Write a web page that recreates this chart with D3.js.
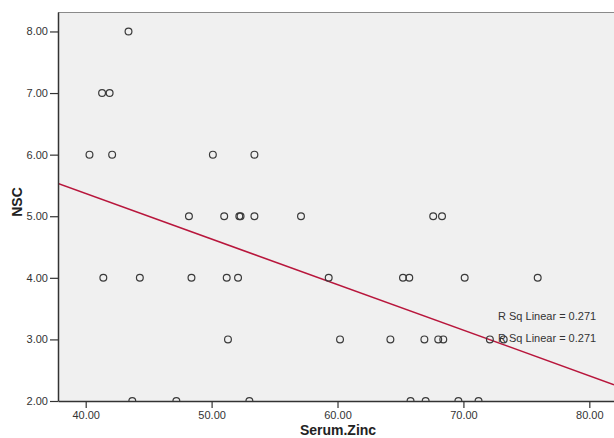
<!DOCTYPE html>
<html>
<head>
<meta charset="utf-8">
<script src="https://cdn.jsdelivr.net/npm/d3@7"></script>
<style>
  html, body { margin: 0; padding: 0; background: #fff; }
  svg { display: block; }
  text { font-family: Arial, "Liberation Sans", sans-serif; }
</style>
</head>
<body>
<svg id="chart" width="614" height="438"></svg>
<script>
// Data
const zinc = [43.4, 41.3, 41.9, 40.3, 42.1, 50.1, 53.4,
              48.2, 51.0, 52.2, 52.3, 53.4, 57.1, 67.6, 68.3,
              41.4, 44.3, 48.4, 51.2, 52.1, 59.3, 65.2, 65.7, 70.1, 75.9,
              51.3, 60.2, 64.2, 66.9, 68.0, 68.4, 72.1, 73.2,
              43.7, 47.2, 53.0, 65.8, 67.0, 69.6, 71.2];
const nsc  = [8, 7, 7, 6, 6, 6, 6,
              5, 5, 5, 5, 5, 5, 5, 5,
              4, 4, 4, 4, 4, 4, 4, 4, 4, 4,
              3, 3, 3, 3, 3, 3, 3, 3,
              2, 2, 2, 2, 2, 2, 2];
const xTicks = [40, 50, 60, 70, 80];
const yTicks = [2, 3, 4, 5, 6, 7, 8];
const fitIntercept = 8.33;
const fitSlope = -0.074;
const rsqLabels = ["R Sq Linear = 0.271", "R Sq Linear = 0.271"];
const xTitle = "Serum.Zinc";
const yTitle = "NSC";

const svg = d3.select("#chart");
const L = 58, T = 12, R = 614, B = 401;
const x = d3.scaleLinear().domain([37.8, 81.96]).range([L, R]);
const y = d3.scaleLinear().domain([2, 8.316]).range([B, T]);

svg.append("rect").attr("x", L).attr("y", T).attr("width", R - L).attr("height", B - T)
  .attr("fill", "#f0f0f0");

svg.append("defs").append("clipPath").attr("id", "clip")
  .append("rect").attr("x", L).attr("y", T).attr("width", R - L).attr("height", B - T);

const plot = svg.append("g").attr("clip-path", "url(#clip)");

// fit line
const xd = x.domain();
plot.append("line")
  .attr("x1", x(xd[0])).attr("y1", y(fitIntercept + fitSlope * xd[0]))
  .attr("x2", x(xd[1])).attr("y2", y(fitIntercept + fitSlope * xd[1]))
  .attr("stroke", "#b8163c").attr("stroke-width", 1.5);

// points
plot.selectAll("circle.pt").data(zinc.map((v, i) => [v, nsc[i]])).enter()
  .append("circle").attr("class", "pt")
  .attr("cx", d => x(d[0])).attr("cy", d => y(d[1])).attr("r", 3.4)
  .attr("fill", "none").attr("stroke", "#3a3a3a").attr("stroke-width", 1.2);

// R sq labels
svg.selectAll("text.rsq").data(rsqLabels).enter().append("text").attr("class", "rsq")
  .attr("x", 498).attr("y", (d, i) => 320 + i * 22)
  .attr("font-size", 11).attr("fill", "#333").text(d => d);

// top border
svg.append("line").attr("x1", L).attr("x2", R).attr("y1", T + 0.5).attr("y2", T + 0.5)
  .attr("stroke", "#8a8a8a").attr("stroke-width", 1);

// axes
const xAxis = svg.append("g").attr("transform", `translate(0,${B})`)
  .call(d3.axisBottom(x).tickValues(xTicks).tickFormat(d3.format(".2f")).tickSize(7).tickPadding(3).tickSizeOuter(0));
const yAxis = svg.append("g").attr("transform", `translate(${L},0)`)
  .call(d3.axisLeft(y).tickValues(yTicks).tickFormat(d3.format(".2f")).tickSize(8).tickPadding(2).tickSizeOuter(0));
[xAxis, yAxis].forEach(g => {
  g.select(".domain").attr("stroke", "#333").attr("stroke-width", 1.5);
  g.selectAll(".tick line").attr("stroke", "#333").attr("stroke-width", 1.2);
  g.selectAll(".tick text").attr("fill", "#333").attr("font-size", 11)
    .attr("font-family", "Arial, 'Liberation Sans', sans-serif");
});

svg.append("text").attr("x", 338).attr("y", 435).attr("text-anchor", "middle")
  .attr("font-size", 14).attr("font-weight", "bold").attr("fill", "#222").text(xTitle);
svg.append("text").attr("transform", "translate(22,202) rotate(-90)").attr("text-anchor", "middle")
  .attr("font-size", 14).attr("font-weight", "bold").attr("fill", "#222").text(yTitle);
</script>
</body>
</html>
